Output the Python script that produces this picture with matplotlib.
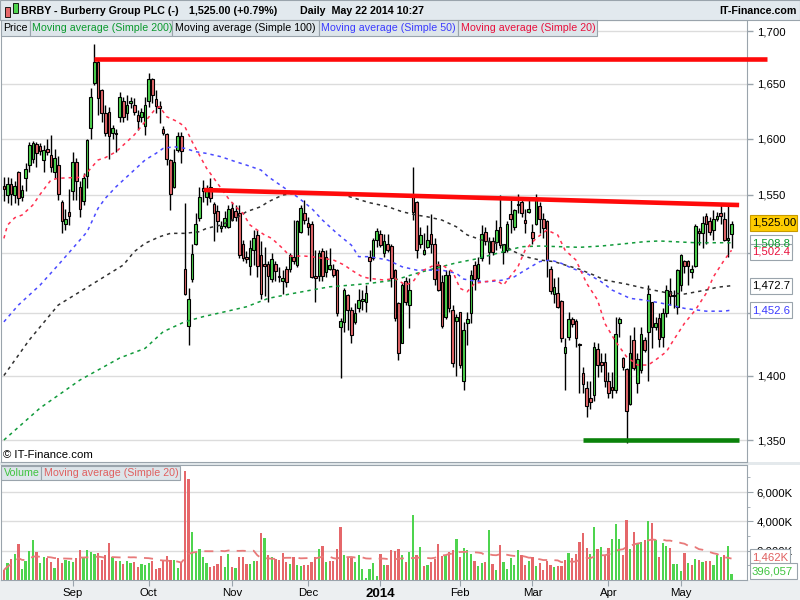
import matplotlib
matplotlib.use("Agg")
import matplotlib.pyplot as plt
import numpy as np
import pandas as pd
from matplotlib import font_manager as fm
from matplotlib.patches import Rectangle
from matplotlib.ticker import FixedLocator, NullLocator, FuncFormatter

# ── data ────────────────────────────────────────────────────────────────────
opens = [1558, 1550, 1560, 1550, 1570, 1548, 1565, 1576, 1582, 1595,
         1593, 1581, 1591, 1585, 1570, 1576, 1544, 1525, 1535, 1553,
         1579, 1557, 1545, 1567, 1610, 1651, 1671, 1644, 1623, 1624,
         1605, 1605, 1620, 1634, 1623, 1632, 1631, 1621, 1620, 1611,
         1634, 1655, 1636, 1630, 1609, 1604, 1581, 1557, 1590, 1602,
         1487, 1440, 1478, 1508, 1530, 1556, 1548, 1557, 1542, 1536,
         1521, 1523, 1522, 1539, 1536, 1534, 1508, 1497, 1489, 1503,
         1515, 1498, 1491, 1491, 1478, 1491, 1481, 1477, 1487, 1487,
         1497, 1490, 1518, 1534, 1526, 1525, 1481, 1481, 1502, 1484,
         1487, 1487, 1486, 1439, 1443, 1465, 1453, 1443, 1454, 1460,
         1459, 1497, 1496, 1511, 1516, 1500, 1508, 1506, 1486, 1458,
         1426, 1477, 1457, 1550, 1544, 1508, 1499, 1505, 1516, 1508,
         1490, 1476, 1447, 1482, 1453, 1444, 1451, 1396, 1442, 1450,
         1490, 1479, 1496, 1518, 1501, 1510, 1509, 1522, 1501, 1503,
         1533, 1522, 1541, 1544, 1528, 1535, 1518, 1525, 1540, 1529,
         1527, 1487, 1466, 1467, 1460, 1418, 1431, 1445, 1444, 1425,
         1402, 1390, 1382, 1385, 1421, 1411, 1411, 1396, 1391, 1389,
         1442, 1414, 1405, 1378, 1428, 1394, 1404, 1428, 1435, 1459,
         1439, 1446, 1431, 1450, 1468, 1465, 1455, 1473, 1493, 1493,
         1484, 1489, 1519, 1517, 1532, 1527, 1520, 1529, 1534, 1529,
         1511, 1516]
highs = [1566, 1566, 1565, 1562, 1571, 1559, 1578, 1597, 1598, 1597,
         1596, 1594, 1600, 1603, 1591, 1584, 1546, 1538, 1555, 1588,
         1583, 1562, 1569, 1600, 1646, 1688, 1672, 1645, 1631, 1629,
         1612, 1609, 1643, 1638, 1640, 1638, 1637, 1626, 1628, 1638,
         1660, 1656, 1644, 1634, 1611, 1605, 1582, 1591, 1606, 1606,
         1543, 1471, 1508, 1534, 1557, 1563, 1559, 1565, 1544, 1541,
         1527, 1536, 1541, 1544, 1541, 1541, 1511, 1502, 1511, 1520,
         1520, 1510, 1505, 1493, 1500, 1493, 1488, 1486, 1489, 1500,
         1528, 1528, 1541, 1546, 1531, 1527, 1503, 1503, 1504, 1503,
         1504, 1491, 1487, 1446, 1471, 1466, 1455, 1458, 1470, 1469,
         1473, 1503, 1513, 1521, 1520, 1516, 1516, 1508, 1487, 1459,
         1475, 1480, 1479, 1575, 1545, 1522, 1517, 1524, 1533, 1513,
         1493, 1482, 1486, 1486, 1457, 1449, 1451, 1443, 1451, 1486,
         1493, 1497, 1524, 1522, 1514, 1514, 1528, 1550, 1508, 1527,
         1546, 1538, 1551, 1546, 1538, 1547, 1525, 1551, 1544, 1534,
         1528, 1489, 1479, 1480, 1461, 1430, 1451, 1447, 1445, 1426,
         1407, 1396, 1396, 1427, 1426, 1418, 1418, 1403, 1403, 1447,
         1447, 1415, 1406, 1432, 1439, 1418, 1439, 1431, 1473, 1459,
         1447, 1450, 1454, 1473, 1479, 1469, 1487, 1499, 1494, 1494,
         1490, 1525, 1521, 1532, 1534, 1531, 1537, 1535, 1543, 1535,
         1543, 1527]
lows = [1545, 1543, 1541, 1543, 1541, 1545, 1553, 1570, 1578, 1575,
        1585, 1570, 1585, 1570, 1565, 1546, 1517, 1520, 1524, 1546,
        1546, 1531, 1541, 1556, 1600, 1649, 1621, 1615, 1602, 1582,
        1600, 1588, 1615, 1615, 1617, 1628, 1621, 1608, 1615, 1603,
        1629, 1632, 1623, 1614, 1603, 1576, 1537, 1556, 1588, 1578,
        1465, 1424, 1476, 1507, 1527, 1544, 1541, 1544, 1510, 1518,
        1518, 1521, 1521, 1527, 1527, 1496, 1493, 1492, 1482, 1490,
        1480, 1462, 1464, 1459, 1476, 1477, 1476, 1466, 1472, 1484,
        1491, 1488, 1517, 1525, 1515, 1479, 1459, 1477, 1477, 1480,
        1486, 1480, 1448, 1398, 1435, 1436, 1426, 1441, 1451, 1453,
        1451, 1477, 1494, 1505, 1505, 1497, 1501, 1472, 1444, 1412,
        1426, 1457, 1438, 1528, 1496, 1504, 1498, 1504, 1500, 1473,
        1468, 1438, 1445, 1451, 1407, 1400, 1406, 1389, 1424, 1442,
        1469, 1477, 1493, 1507, 1491, 1498, 1503, 1504, 1491, 1501,
        1517, 1520, 1534, 1531, 1517, 1534, 1508, 1524, 1517, 1513,
        1480, 1466, 1458, 1454, 1427, 1389, 1428, 1439, 1423, 1386,
        1386, 1368, 1374, 1380, 1399, 1403, 1391, 1382, 1382, 1386,
        1431, 1404, 1348, 1377, 1404, 1386, 1402, 1419, 1396, 1422,
        1436, 1423, 1423, 1447, 1457, 1454, 1449, 1468, 1483, 1473,
        1479, 1488, 1507, 1504, 1508, 1515, 1511, 1527, 1525, 1510,
        1497, 1504]
closes = [1555, 1560, 1551, 1558, 1547, 1554, 1573, 1594, 1596, 1587,
          1589, 1590, 1588, 1575, 1583, 1551, 1527, 1529, 1532, 1579,
          1562, 1538, 1565, 1599, 1638, 1671, 1637, 1623, 1605, 1602,
          1610, 1604, 1638, 1620, 1631, 1634, 1624, 1616, 1624, 1631,
          1655, 1640, 1630, 1628, 1605, 1582, 1551, 1579, 1602, 1589,
          1466, 1462, 1499, 1525, 1548, 1553, 1554, 1547, 1534, 1527,
          1523, 1530, 1538, 1528, 1531, 1498, 1496, 1495, 1504, 1513,
          1489, 1466, 1489, 1481, 1495, 1485, 1480, 1479, 1476, 1498,
          1493, 1527, 1539, 1528, 1522, 1480, 1479, 1500, 1481, 1497,
          1490, 1482, 1450, 1444, 1469, 1453, 1432, 1450, 1461, 1462,
          1467, 1493, 1511, 1519, 1507, 1510, 1503, 1479, 1446, 1418,
          1473, 1459, 1469, 1535, 1503, 1515, 1503, 1511, 1508, 1478,
          1469, 1440, 1482, 1454, 1410, 1447, 1408, 1436, 1445, 1482,
          1478, 1491, 1516, 1510, 1510, 1501, 1520, 1507, 1508, 1525,
          1529, 1537, 1542, 1534, 1526, 1538, 1513, 1547, 1529, 1521,
          1494, 1468, 1472, 1455, 1430, 1423, 1445, 1441, 1430, 1424,
          1393, 1376, 1379, 1423, 1408, 1408, 1396, 1386, 1389, 1433,
          1445, 1407, 1372, 1418, 1406, 1413, 1433, 1420, 1466, 1439,
          1442, 1429, 1450, 1469, 1464, 1464, 1486, 1498, 1489, 1489,
          1487, 1523, 1517, 1526, 1525, 1518, 1529, 1532, 1532, 1511,
          1513, 1525]
prev_close_first = 1560

volume_k = [683, 1138, 1434, 1776, 2459, 751, 1320, 2003, 2732, 1912,
            1161, 1548, 1480, 1229, 797, 1480, 1138, 1366, 1298, 1229,
            1480, 2049, 1480, 2049, 1935, 1776, 1821, 1366, 1707, 2504,
            1548, 1298, 1298, 1093, 1298, 1184, 1229, 911, 1093, 1025,
            1138, 1320, 774, 842, 1366, 1639, 1366, 1366, 842, 1184,
            7467, 6898, 3278, 1890, 2117, 1594, 1184, 911, 956, 1070,
            1639, 911, 1776, 911, 797, 1594, 1548, 1070, 1070, 1320,
            1300, 3233, 2846, 1707, 1594, 1434, 1366, 1867, 1252, 1070,
            1594, 1025, 979, 1025, 1025, 1200, 1548, 2117, 2322, 1252,
            1320, 1320, 2094, 3597, 1707, 1594, 1480, 1252, 1707, 751,
            159, 774, 1138, 273, 1776, 1025, 1025, 2049, 1980, 2117,
            1707, 1252, 1935, 4438, 1707, 2230, 956, 1024, 1252, 1434,
            2458, 1639, 1707, 1935, 2048, 2799, 1593, 2208, 2048, 1775,
            1320, 956, 1184, 1229, 3414, 1100, 683, 2367, 1252, 728,
            1479, 1024, 2048, 1707, 1024, 1320, 1593, 956, 1184, 683,
            1320, 1024, 910, 956, 956, 1366, 1821, 1479, 1775, 2617,
            3186, 2162, 1775, 3596, 2094, 2276, 1707, 2162, 2799, 3824,
            2777, 1707, 4097, 2094, 3300, 2504, 2617, 2731, 4028, 3915,
            2731, 1593, 2504, 2321, 2162, 1092, 1092, 637, 1821, 1184,
            1024, 1411, 1366, 1252, 1320, 1320, 1024, 1707, 1600, 1680,
            2317, 396]
last_volume = 396057

# moving averages as drawn (day index, value)
ma20_idx = [0, 1, 3, 5, 8, 10, 13, 15, 18, 20, 22, 24, 26, 28, 31, 33, 36, 39, 42, 43,
            45, 48, 50, 52, 54, 56, 58, 60, 62, 64, 66, 68, 70, 72, 74, 77, 79, 83, 85, 88,
            91, 94, 96, 99, 101, 105, 108, 111, 113, 115, 119, 121, 124, 126, 128, 130, 133, 136, 138, 142,
            144, 147, 150, 153, 155, 158, 161, 164, 166, 169, 172, 175, 178, 180, 183, 185, 188, 191, 194, 196,
            199, 201]
ma20_val = [1512.5, 1523.9, 1530.2, 1532.5, 1541.2, 1550.5, 1563.1, 1564.6, 1565.1, 1565.1,
            1566.0, 1573.4, 1580.8, 1582.9, 1588.2, 1594.2, 1603.3, 1615.3, 1627.6, 1629.1,
            1619.8, 1615.3, 1610.7, 1597.2, 1585.2, 1573.4, 1564.6, 1555.8, 1547.0, 1539.8,
            1534.1, 1523.9, 1519.6, 1515.4, 1512.5, 1504.0, 1497.5, 1497.5, 1497.0, 1495.6,
            1494.2, 1490.0, 1485.7, 1480.1, 1478.8, 1477.4, 1478.8, 1473.2, 1476.0, 1484.3,
            1490.0, 1490.0, 1484.3, 1470.5, 1467.7, 1474.6, 1476.0, 1477.4, 1473.2, 1488.5,
            1502.6, 1512.5, 1519.6, 1515.4, 1502.6, 1494.2, 1474.6, 1460.8, 1441.8, 1427.0,
            1414.9, 1408.3, 1408.3, 1412.3, 1418.9, 1428.3, 1441.8, 1452.6, 1466.4, 1480.1,
            1494.2, 1502.4]
ma50_idx = [0, 4, 10, 15, 20, 23, 26, 28, 31, 34, 36, 39, 42, 44, 47, 50, 53, 56, 60, 64,
            67, 71, 73, 77, 81, 85, 88, 92, 96, 98, 101, 106, 110, 114, 121, 125, 127, 130, 134, 138,
            141, 144, 148, 151, 154, 157, 161, 165, 168, 173, 177, 183, 188, 194, 199, 201]
ma50_val = [1443.0, 1456.7, 1473.2, 1490.0, 1507.5, 1518.2, 1538.3, 1547.0, 1557.2, 1566.0,
            1571.9, 1580.8, 1586.7, 1591.2, 1592.7, 1591.2, 1588.2, 1586.7, 1583.7, 1579.3,
            1576.3, 1571.9, 1566.0, 1557.2, 1548.4, 1538.3, 1528.2, 1516.8, 1506.7, 1497.0,
            1497.0, 1494.2, 1488.5, 1485.7, 1485.7, 1483.0, 1478.2, 1476.6, 1476.0, 1477.4,
            1480.1, 1485.7, 1492.8, 1494.2, 1491.4, 1487.1, 1483.0, 1476.0, 1469.1, 1462.2,
            1460.8, 1457.5, 1454.0, 1451.7, 1451.7, 1452.6]
ma100_idx = [0, 7, 15, 24, 33, 36, 39, 43, 46, 50, 54, 56, 60, 64, 67, 71, 73, 77, 80, 84,
             88, 93, 97, 101, 104, 106, 110, 114, 117, 121, 125, 128, 132, 136, 138, 141, 144, 148, 152, 155,
             159, 163, 166, 172, 177, 183, 188, 194, 197, 201]
ma100_val = [1400.0, 1428.3, 1456.7, 1473.2, 1490.0, 1501.2, 1508.3, 1513.9, 1516.8, 1516.8,
             1518.2, 1521.1, 1523.9, 1529.7, 1535.4, 1539.8, 1544.0, 1549.9, 1551.4, 1551.4,
             1551.4, 1550.8, 1547.0, 1543.2, 1541.2, 1539.8, 1535.4, 1532.5, 1531.0, 1528.2,
             1522.4, 1515.4, 1511.1, 1508.3, 1506.9, 1501.2, 1497.0, 1494.2, 1492.8, 1490.0,
             1486.4, 1481.5, 1477.4, 1474.0, 1470.5, 1466.9, 1465.8, 1469.1, 1471.4, 1472.7]
ma200_idx = [0, 10, 21, 32, 39, 44, 50, 55, 61, 67, 73, 79, 85, 90, 96, 101, 108, 114, 119, 125,
             130, 136, 138, 143, 148, 154, 159, 165, 170, 177, 181, 185, 191, 196, 201]
ma200_val = [1350.0, 1374.6, 1396.4, 1413.9, 1421.6, 1435.0, 1443.1, 1447.2, 1451.2, 1455.3,
             1462.2, 1465.8, 1469.1, 1471.8, 1473.2, 1474.6, 1477.4, 1483.0, 1487.1, 1491.8,
             1494.8, 1499.6, 1501.2, 1505.4, 1506.0, 1505.4, 1504.9, 1506.0, 1507.5, 1509.7,
             1510.3, 1509.7, 1508.8, 1508.8, 1508.8]

# trend lines drawn on the chart: (start day, end day, start price, end price)
top_line = (24.8, 210.8, 1673.0, 1673.0)
resist_line = (55.3, 203.1, 1554.3, 1541.2)
support_line = (160.0, 203.1, 1350.0, 1350.0)

month_labels = ["Sep", "Oct", "Nov", "Dec", "2014", "Feb", "Mar", "Apr", "May"]
uk_holidays = ["2013-08-26", "2013-12-25", "2013-12-26", "2014-01-01",
               "2014-04-18", "2014-04-21", "2014-05-05"]
price_ticks = [1350, 1400, 1450, 1500, 1550, 1600, 1650, 1700]
hidden_price_labels = [1450, 1500]      # covered by the value tags in the original
vol_ticks = [2000, 4000, 6000]

# ── styling ──────────────────────────────────────────────────────────────────
GREEN = "#4ed44e"
RED = "#e5676a"
GRID = "#dcdcdc"
FRAME = "#9aa4ac"
PANEL = "#dde5ea"

names = {f.name for f in fm.fontManager.ttflist}
NARROW = "Liberation Sans Narrow" if "Liberation Sans Narrow" in names else "Liberation Sans"
SMALL = 9.4 if NARROW == "Liberation Sans Narrow" else 7.7
plt.rcParams["font.family"] = ["Liberation Sans", "DejaVu Sans"]

W, H = 800, 600


def fx(px):
    return px / W


def fy(py):
    return 1 - py / H


days = pd.bdate_range("2013-08-05", "2014-05-22")
days = days[~days.isin(pd.to_datetime(uk_holidays))]
month_idx = [i for i in range(1, len(days)) if days[i].month != days[i - 1].month]

x = np.arange(len(closes))
o, h, l, c = (np.array(a, dtype=float) for a in (opens, highs, lows, closes))
up = c >= o

fig = plt.figure(figsize=(8, 6), dpi=100)
fig.patch.set_facecolor("white")

# panels: day i sits at pixel 3.9 + 3.62 * i
xlim = ((1 - 3.9) / 3.62, (747 - 3.9) / 3.62)
ax = fig.add_axes([fx(1), fy(462), fx(746), (462 - 20) / H])
axv = fig.add_axes([fx(1), fy(580), fx(746), (580 - 465) / H])

# ── price panel ─────────────────────────────────────────────────────────────
ax.set_yscale("log")
ax.set_ylim(1333.4, 1710.6)
ax.set_xlim(*xlim)
for p in price_ticks:
    ax.axhline(p, color=GRID, lw=1, zorder=0)

ax.vlines(x, l, h, color="black", lw=1, zorder=2)
body = np.maximum(np.abs(c - o), 0.6)
ax.bar(x, body, bottom=np.minimum(o, c), width=0.72,
       color=np.where(up, GREEN, RED), edgecolor="black", linewidth=0.8, zorder=3)

dash = (0, (2.2, 2.6))
ax.plot(ma200_idx, ma200_val, color="#109a3a", lw=1.1, ls=dash, zorder=4)
ax.plot(ma100_idx, ma100_val, color="#303030", lw=1.1, ls=dash, zorder=4)
ax.plot(ma50_idx, ma50_val, color="#4a4aff", lw=1.1, ls=dash, zorder=4)
ax.plot(ma20_idx, ma20_val, color="#ff3050", lw=1.1, ls=dash, zorder=4)

for (x0, x1, y0, y1), col in ((top_line, "#ff0a0a"), (resist_line, "#ff0a0a"),
                              (support_line, "#0a820a")):
    ax.plot([x0, x1], [y0, y1], color=col, lw=3.3, solid_capstyle="butt",
            zorder=6, clip_on=False)

ax.yaxis.tick_right()
ax.yaxis.set_major_locator(FixedLocator(price_ticks))
ax.yaxis.set_minor_locator(NullLocator())
ax.yaxis.set_major_formatter(FuncFormatter(
    lambda v, _: "" if round(v) in hidden_price_labels else f"{v:,.0f}"))
ax.tick_params(axis="y", which="major", direction="out", length=4, width=1,
               color=FRAME, labelsize=8.2, pad=3)
ax.tick_params(axis="x", bottom=False, labelbottom=False)
for s in ax.spines.values():
    s.set_color(FRAME)

fig.text(fx(3), fy(455), "© IT-Finance.com", fontsize=8.2, ha="left", va="center", zorder=7)

# ── volume panel ────────────────────────────────────────────────────────────
vol = np.array(volume_k, dtype=float)
prev = np.r_[prev_close_first, c[:-1]]
axv.set_xlim(*xlim)
axv.set_ylim(0, 7851)
for v in vol_ticks:
    axv.axhline(v, color=GRID, lw=1, zorder=0)
axv.bar(x, vol, width=0.62, color=np.where(c >= prev, GREEN, RED), zorder=2)
vma = pd.Series(vol).rolling(20, min_periods=1).mean()
axv.plot(x, vma, color="#e87a7a", lw=1.3, ls=(0, (5, 4)), zorder=3)

axv.yaxis.tick_right()
axv.yaxis.set_major_locator(FixedLocator(vol_ticks))
axv.yaxis.set_minor_locator(FixedLocator([1000, 3000, 5000, 7000]))
axv.yaxis.set_major_formatter(FuncFormatter(lambda v, _: f"{v:,.0f}K"))
axv.tick_params(axis="y", which="major", direction="out", length=4, color=FRAME,
                labelsize=8.2, pad=3)
axv.tick_params(axis="y", which="minor", direction="out", length=2.5, color=FRAME)
axv.set_xticks(month_idx)
axv.set_xticklabels(month_labels)
axv.tick_params(axis="x", direction="out", length=4, color=FRAME, labelsize=8.2, pad=2)
for t in axv.get_xticklabels():
    if t.get_text() == "2014":
        t.set_fontweight("bold")
        t.set_fontsize(9.5)
for s in axv.spines.values():
    s.set_color(FRAME)


# ── frame decorations (pixel positions) ─────────────────────────────────────
def rect(px0, py0, px1, py1, fc, ec="none", lw=0.8, z=0):
    fig.add_artist(Rectangle((fx(px0), fy(py1)), fx(px1 - px0), (py1 - py0) / H,
                             transform=fig.transFigure, facecolor=fc,
                             edgecolor=ec, linewidth=lw, zorder=z))


rect(0, 580, 800, 600, "#eceff1", z=-5)
rect(0, 462, 800, 465, "#e4e9ec", z=-5)
rect(0, 0, 800, 20, "#e2e9ee", ec=FRAME, z=5)

# header icon and title line
rect(5, 7, 10, 17, RED, ec="black", lw=0.6, z=6)
rect(13, 3, 18, 13, GREEN, ec="black", lw=0.6, z=6)
hdr = dict(fontsize=SMALL, family=[NARROW, "DejaVu Sans"], fontweight="bold",
           va="center", zorder=7)
change = (closes[-1] / closes[-2] - 1) * 100
fig.text(fx(21), fy(11), "BRBY - Burberry Group PLC (-)", **hdr)
fig.text(fx(189), fy(11), f"{closes[-1]:,.2f} (+{change:.2f}%)", **hdr)
fig.text(fx(300), fy(11), "Daily  May 22 2014 10:27", **hdr)
fig.text(fx(797), fy(11), "IT-Finance.com", ha="right", **hdr)

# legend strips
leg = dict(fontsize=SMALL, family=[NARROW, "DejaVu Sans"], va="center", zorder=9)
for x0, x1, txt, col in ((1, 29.6, "Price", "black"),
                         (29.6, 172.4, "Moving average (Simple 200)", "#0b9a2e"),
                         (172.4, 318.9, "Moving average (Simple 100)", "black"),
                         (318.9, 458.2, "Moving average (Simple 50)", "#3b3bff"),
                         (458.2, 597, "Moving average (Simple 20)", "#e8103c")):
    rect(x0, 20, x1, 35.5, PANEL, ec=FRAME, z=8)
    fig.text(fx(x0 + 2.5), fy(28), txt, color=col, **leg)
for x0, x1, txt, col in ((1, 41, "Volume", "#3fc43f"),
                         (41, 180, "Moving average (Simple 20)", "#e06060")):
    rect(x0, 466, x1, 479.5, PANEL, ec=FRAME, z=8)
    fig.text(fx(x0 + 2.5), fy(473), txt, color=col, **leg)


# value tags on the right axis
def tag(py, txt, col, bg="white", ec=FRAME, w=42):
    rect(750, py - 8, 750 + w, py + 8, bg, ec=ec, z=9)
    fig.text(fx(752), fy(py), txt, color=col, fontsize=8.2, va="center", zorder=10)


tag(243, f"{ma200_val[-1]:,.1f}", "#0b9a2e")
tag(252, f"{ma20_val[-1]:,.1f}", "#e8103c")
tag(286, f"{ma100_val[-1]:,.1f}", "black")
tag(310, f"{ma50_val[-1]:,.1f}", "#3b3bff")
tag(223, f"{closes[-1]:,.2f}", "black", bg="#ffcc00", ec="#c89a00", w=47)
tag(557, f"{vma.iloc[-1]:,.0f}K", "#e06060", w=40)
tag(571, f"{last_volume:,}", "#3fc43f", w=47)

fig.savefig("out.png", dpi=100, facecolor=fig.get_facecolor())
